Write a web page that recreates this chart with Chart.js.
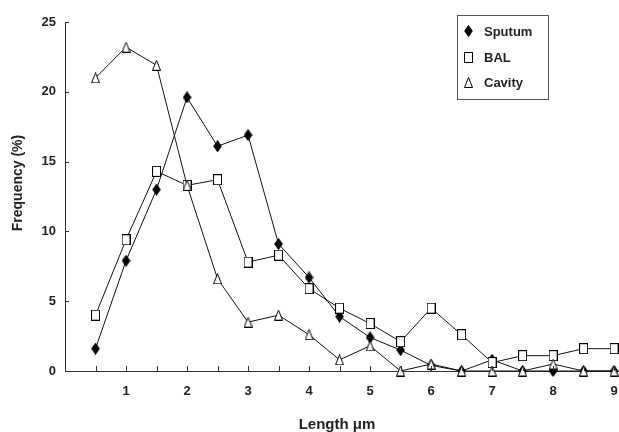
<!DOCTYPE html>
<html>
<head>
<meta charset="utf-8">
<script src="https://cdn.jsdelivr.net/npm/chart.js@4/dist/chart.umd.min.js"></script>
<style>
  html, body { margin: 0; padding: 0; background: #ffffff; }
  #wrap { width: 619px; height: 432px; position: relative; }
</style>
</head>
<body>
<div id="wrap"><canvas id="c" width="619" height="432"></canvas></div>
<script>
// ---- data ----
const lengths = [0.5, 1, 1.5, 2, 2.5, 3, 3.5, 4, 4.5, 5, 5.5, 6, 6.5, 7, 7.5, 8, 8.5, 9];
const sputum = [1.6, 7.9, 13.0, 19.6, 16.1, 16.9, 9.1, 6.7, 3.9, 2.4, 1.5, 0.4, 0, 0.8, 0, 0, 0, 0];
const bal    = [4.0, 9.4, 14.3, 13.3, 13.7, 7.8, 8.3, 5.9, 4.5, 3.4, 2.1, 4.5, 2.6, 0.6, 1.1, 1.1, 1.6, 1.6];
const cavity = [21.0, 23.2, 21.9, 13.3, 6.6, 3.5, 4.0, 2.6, 0.8, 1.8, 0, 0.5, 0, 0, 0, 0.5, 0, 0];
const xTickValues = [0.5, 1, 1.5, 2, 2.5, 3, 3.5, 4, 4.5, 5, 5.5, 6, 6.5, 7, 7.5, 8, 8.5, 9];
const xTickLabels = ['', '1', '', '2', '', '3', '', '4', '', '5', '', '6', '', '7', '', '8', '', '9'];
const yTickValues = [0, 5, 10, 15, 20, 25];
const seriesNames = ['Sputum', 'BAL', 'Cavity'];
const xTitle = 'Length \u03bcm';
const yTitle = 'Frequency (%)';

// ---- marker images ----
function makeMarker(kind) {
  const c = document.createElement('canvas');
  const ctx = c.getContext('2d');
  if (kind === 'diamond') {
    c.width = 9; c.height = 12;
    ctx.fillStyle = '#000'; ctx.strokeStyle = '#000'; ctx.lineWidth = 1;
    ctx.beginPath();
    ctx.moveTo(4.5, 0.5); ctx.lineTo(8.3, 6); ctx.lineTo(4.5, 11.5); ctx.lineTo(0.7, 6); ctx.closePath();
    ctx.fill(); ctx.stroke();
  } else if (kind === 'square') {
    c.width = 9; c.height = 11;
    ctx.fillStyle = '#fff'; ctx.strokeStyle = '#000'; ctx.lineWidth = 1;
    ctx.fillRect(0.5, 0.5, 8, 10);
    ctx.strokeRect(0.5, 0.5, 8, 10);
  } else {
    c.width = 9; c.height = 11;
    ctx.fillStyle = '#fff'; ctx.strokeStyle = '#000'; ctx.lineWidth = 1;
    ctx.beginPath();
    ctx.moveTo(4.5, 0.5); ctx.lineTo(8.5, 10.5); ctx.lineTo(0.5, 10.5); ctx.closePath();
    ctx.fill(); ctx.stroke();
  }
  return c;
}
const markers = [makeMarker('diamond'), makeMarker('square'), makeMarker('triangle')];

function pts(vals) { return lengths.map((x, i) => ({ x: x, y: vals[i] })); }

const FONT = '"Liberation Sans", Arial, sans-serif';

// ---- plugin: inward tick marks, titles, legend ----
const decor = {
  id: 'decor',
  afterDraw(chart) {
    const ctx = chart.ctx;
    const xs = chart.scales.x, ys = chart.scales.y;
    const area = chart.chartArea;
    ctx.save();
    ctx.strokeStyle = '#333';
    ctx.lineWidth = 1;
    ctx.beginPath();
    xs.ticks.forEach(t => {
      const px = Math.round(xs.getPixelForValue(t.value)) + 0.5;
      ctx.moveTo(px, area.bottom);
      ctx.lineTo(px, area.bottom - 5);
    });
    ys.ticks.forEach(t => {
      const py = Math.round(ys.getPixelForValue(t.value)) + 0.5;
      ctx.moveTo(area.left, py);
      ctx.lineTo(area.left + 4, py);
    });
    ctx.stroke();

    // axis titles
    ctx.fillStyle = '#222';
    ctx.font = 'bold 15px ' + FONT;
    ctx.textAlign = 'center';
    ctx.textBaseline = 'middle';
    ctx.fillText(xTitle, 337, 425);
    ctx.save();
    ctx.translate(18, 183);
    ctx.rotate(-Math.PI / 2);
    ctx.font = 'bold 14px ' + FONT;
    ctx.fillText(yTitle, 0, 0);
    ctx.restore();

    // legend
    ctx.strokeStyle = '#555';
    ctx.lineWidth = 1;
    ctx.strokeRect(457.5, 15.5, 91, 84);
    ctx.font = 'bold 13px ' + FONT;
    ctx.textAlign = 'left';
    ctx.textBaseline = 'middle';
    const rows = [31, 57, 82];
    chart.data.datasets.forEach((ds, i) => {
      const m = markers[i];
      ctx.drawImage(m, Math.round(468 - m.width / 2), Math.round(rows[i] - m.height / 2));
      ctx.fillStyle = '#222';
      ctx.fillText(ds.label, 484, rows[i] + 1);
    });
    ctx.restore();
  }
};

new Chart(document.getElementById('c'), {
  type: 'line',
  data: {
    datasets: [
      { label: seriesNames[0], data: pts(sputum), pointStyle: markers[0], order: 2 },
      { label: seriesNames[1], data: pts(bal), pointStyle: markers[1], order: 1 },
      { label: seriesNames[2], data: pts(cavity), pointStyle: markers[2], order: 0 }
    ].map(d => Object.assign({
      borderColor: '#111',
      borderWidth: 1,
      backgroundColor: '#fff',
      pointRadius: 5,
      pointHoverRadius: 5,
      tension: 0,
      fill: false,
      clip: false
    }, d))
  },
  options: {
    responsive: false,
    animation: false,
    devicePixelRatio: 1,
    layout: { autoPadding: false, padding: { top: 22, right: 0, left: 0, bottom: 0 } },
    plugins: { legend: { display: false }, tooltip: { enabled: false }, title: { display: false } },
    scales: {
      x: {
        type: 'linear',
        min: 0,
        max: 9.08,
        afterBuildTicks: s => { s.ticks = xTickValues.map(v => ({ value: v })); },
        afterFit: s => { s.height = 61; s.paddingLeft = 0; s.paddingRight = 0; },
        grid: { display: true, drawOnChartArea: false, drawTicks: false },
        border: { display: true, color: '#333', width: 1 },
        ticks: {
          autoSkip: false,
          maxRotation: 0,
          padding: 13,
          color: '#222',
          font: { family: FONT, size: 13, weight: 'bold' },
          callback: (v, i) => xTickLabels[i]
        }
      },
      y: {
        min: 0,
        max: 25,
        afterBuildTicks: s => { s.ticks = yTickValues.map(v => ({ value: v })); },
        afterFit: s => { s.width = 65; s.paddingTop = 0; s.paddingBottom = 0; },
        grid: { display: true, drawOnChartArea: false, drawTicks: false },
        border: { display: true, color: '#333', width: 1 },
        ticks: {
          padding: 9,
          color: '#222',
          font: { family: FONT, size: 13, weight: 'bold' }
        }
      }
    }
  },
  plugins: [decor]
});
</script>
</body>
</html>
